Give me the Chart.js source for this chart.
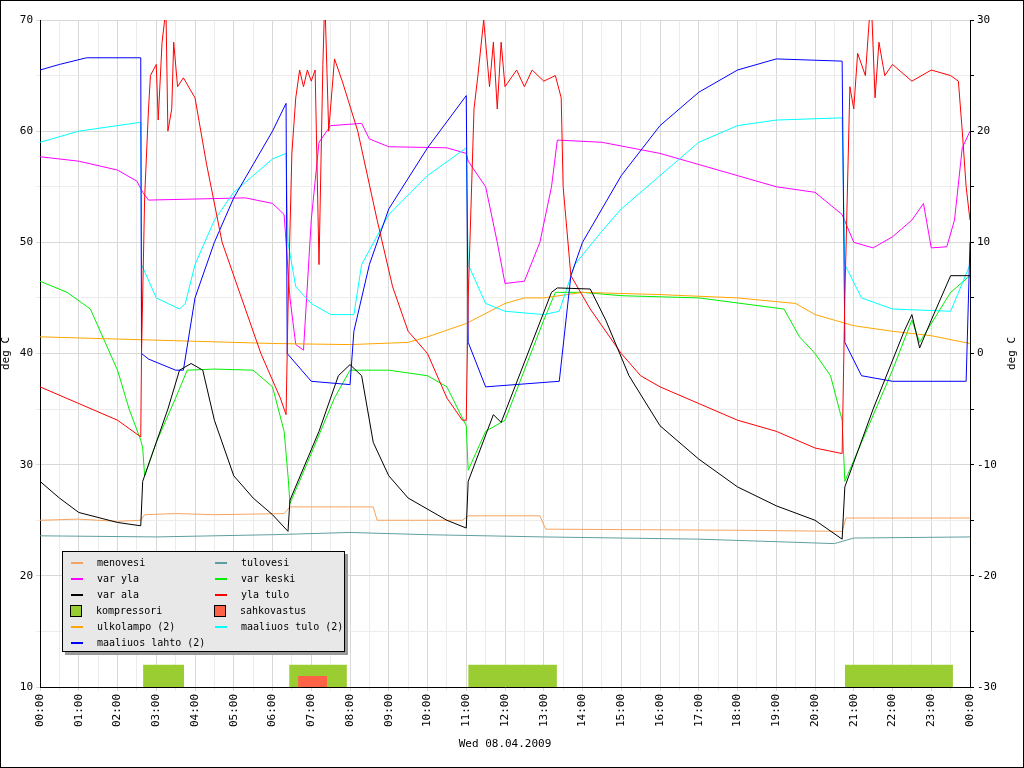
<!DOCTYPE html>
<html>
<head>
<meta charset="utf-8">
<script src="https://cdn.jsdelivr.net/npm/chart.js@4"></script>
<style>
  body { margin: 0; background: #fff; }
  #wrap { position: relative; width: 1024px; height: 768px; }
  #legend { position: absolute; left: 62px; top: 551px; width: 281px; height: 99px; background: #e8e8e8;
    border: 1px solid #000; box-shadow: 3px 3px 0 #999; font: 10px "DejaVu Sans Mono", monospace; }
  .it { position: absolute; height: 16px; line-height: 16px; white-space: nowrap; }
  .ln { display: inline-block; width: 12px; height: 2px; vertical-align: middle; margin: 0 14px 0 8px; }
  .bx { display: inline-block; width: 10px; height: 10px; border: 1px solid #000; vertical-align: middle; margin: 0 14px 0 7px; }
</style>
</head>
<body>
<div id="wrap">
<canvas id="chart" width="1024" height="768"></canvas>
<div id="legend"></div>
</div>
<script>
    // data, [hour, value]
    var menovesi = [[0,25],[1,25.1],[2,24.9],[2.6,25],[2.7,25.5],[3.5,25.6],[4.5,25.5],[6.3,25.6],[6.45,26.2],[8.6,26.2],[8.7,25],[10.9,25],[11.05,25.4],[12.9,25.4],[13.05,24.2],[18,24.1],[20.7,24],[20.8,25.2],[24,25.2]];
    var tulovesi = [[0,23.6],[3,23.5],[6,23.7],[8,23.9],[10,23.7],[13,23.5],[17,23.3],[20.5,22.9],[21,23.4],[24,23.5]];
    var varYla = [[0,57.7],[1,57.3],[2,56.5],[2.5,55.5],[2.65,54.5],[2.8,53.8],[5.3,54],[6,53.5],[6.3,52.5],[6.45,45],[6.6,40.8],[6.8,40.3],[7,52],[7.2,59],[7.5,60.5],[8.3,60.7],[8.5,59.3],[9,58.6],[10.5,58.5],[11,58],[11.05,57.3],[11.5,55],[11.8,50],[12,46.3],[12.5,46.5],[12.9,50],[13.2,55],[13.35,59.2],[14.5,59],[16,58],[17,57],[18,56],[19,55],[20,54.5],[20.7,52.5],[21,50],[21.5,49.5],[22,50.5],[22.5,52],[22.8,53.5],[23,49.5],[23.4,49.6],[23.6,52],[23.8,58.5],[24,60]];
    var varKeski = [[0,46.5],[0.7,45.5],[1.3,44],[2,38.5],[2.3,35],[2.6,32.2],[2.65,31.5],[2.7,29],[3,32],[3.5,36],[3.8,38.5],[4.5,38.6],[5.5,38.5],[6,37],[6.3,33],[6.4,29],[6.45,26.5],[7,31],[7.6,36],[8,38.5],[9,38.5],[10,38],[10.5,37],[11,33.5],[11.05,29.5],[11.5,33],[12,34],[13,43],[13.3,45.5],[14,45.5],[15,45.2],[17,45],[19.2,44],[19.6,41.5],[20,40],[20.4,38],[20.7,34],[20.77,28.5],[22,38.5],[22.5,43],[22.7,41],[23.5,45.5],[24,47]];
    var varAla = [[0,28.5],[0.5,27],[1,25.7],[2,24.8],[2.6,24.5],[2.65,28.5],[3.3,35],[3.6,38.5],[3.9,39.1],[4.2,38.5],[4.5,34],[5,29],[5.5,27],[6,25.5],[6.4,24],[6.45,26.8],[7.2,33],[7.7,38],[8,39],[8.3,38],[8.6,32],[9,29],[9.5,27],[10.5,25],[11,24.3],[11.05,28.5],[11.7,34.5],[11.9,33.8],[13.2,45.5],[13.35,45.9],[14.2,45.8],[14.6,43],[15.2,38],[16,33.5],[17,30.5],[18,28],[19,26.3],[20,25],[20.7,23.3],[20.77,28],[21.5,35],[22.3,42],[22.5,43.5],[22.7,40.5],[23,43],[23.5,47],[24,47]];
    var ylaTulo = [[0,37],[1,35.5],[2,34],[2.6,32.5],[2.62,40],[2.7,54],[2.8,62],[2.85,65],[3,66],[3.05,61],[3.15,68],[3.25,71],[3.3,60],[3.4,62],[3.45,68],[3.55,64],[3.7,64.8],[4,63],[4.3,57],[4.7,50],[5.2,45],[5.7,40],[6.2,36],[6.35,34.5],[6.4,44],[6.5,58],[6.6,63],[6.7,65.5],[6.8,64],[6.9,65.5],[7,64.5],[7.1,65.5],[7.2,48],[7.3,66],[7.35,72],[7.45,60],[7.6,66.5],[7.8,64.5],[8.2,60],[8.7,52],[9.1,46],[9.5,42],[10,40],[10.5,36],[10.9,34],[11,34],[11.05,45],[11.2,62],[11.3,65],[11.45,70],[11.6,64],[11.7,68],[11.8,62],[11.9,68],[12,64],[12.3,65.5],[12.5,64],[12.7,65.5],[13,64.5],[13.3,65],[13.45,63],[13.5,55],[13.7,47],[14.2,44],[15,40],[15.5,38],[16,37],[17,35.5],[18,34],[19,33],[20,31.5],[20.7,31],[20.77,45],[20.9,64],[21,62],[21.1,67],[21.3,65],[21.4,70],[21.45,72],[21.55,63],[21.65,68],[21.8,65],[22,66],[22.5,64.5],[23,65.5],[23.5,65],[23.7,64.5],[23.8,60],[23.9,55],[24,52]];
    var ulkolampo = [[0,1.5],[3,1.2],[6,0.9],[8,0.8],[9.5,1],[10,1.5],[11,2.7],[12,4.5],[12.5,5],[13,5],[14,5.5],[16,5.3],[18,5],[19.5,4.5],[20,3.5],[21,2.5],[22,2],[23,1.6],[24,0.9]];
    var maaTulo = [[0,19],[1,20],[2,20.5],[2.6,20.8],[2.62,8],[3,5],[3.6,4],[3.75,4.5],[4,8],[4.5,12],[5,14.5],[6,17.5],[6.35,18],[6.4,10],[6.6,6],[7,4.5],[7.5,3.5],[8.1,3.5],[8.3,8],[9,12.5],[10,16],[11,18.5],[11.05,8],[11.5,4.5],[12,3.8],[13,3.5],[13.4,3.8],[13.8,8],[14.5,11],[15,13],[16,16],[17,19],[18,20.5],[19,21],[20.7,21.2],[20.77,8],[21.2,5],[22,4],[23.5,3.8],[24,8]];
    var maaLahto = [[0,25.5],[0.5,26],[1.2,26.6],[2.6,26.6],[2.62,0],[2.8,-0.5],[3.5,-1.5],[3.7,-1.5],[4,5],[4.5,10],[5,14],[5.5,17],[6,20],[6.35,22.5],[6.38,0],[7,-2.5],[8,-2.8],[8.1,2],[8.5,8],[9,13],[10,18.5],[11,23.2],[11.05,1],[11.5,-3],[13.4,-2.5],[13.7,7],[14,10],[15,16],[16,20.5],[17,23.5],[18,25.5],[19,26.5],[20.7,26.3],[20.77,1],[21.2,-2],[22,-2.5],[23.9,-2.5],[24,10]];
    var kompressori = [[2.66,3.72],[6.43,7.92],[11.05,13.34],[20.77,23.56]];
    var sahkovastus = [[6.66,7.41]];

    function pts(list) {
        return list.map(p => ({x: p[0], y: p[1]}));
    }
    function blocks(list, h) {
        var out = [];
        list.forEach(b => {
            out.push({x: b[0], y: h}, {x: b[1], y: h}, {x: b[1], y: null});
        });
        return out;
    }
    function line(label, data, color, axis) {
        return {label: label, data: pts(data), borderColor: color, borderWidth: 1, pointRadius: 0,
            fill: false, tension: 0, yAxisID: axis || 'y'};
    }

    var datasets = [
        line('var ala', varAla, '#000000'),
        line('yla tulo', ylaTulo, '#ff0000'),
        line('maaliuos lahto (2)', maaLahto, '#0000ff', 'y2'),
        line('maaliuos tulo (2)', maaTulo, '#00ffff', 'y2'),
        line('ulkolampo (2)', ulkolampo, '#ffa500', 'y2'),
        line('var keski', varKeski, '#00ee00'),
        line('var yla', varYla, '#ff00ff'),
        line('tulovesi', tulovesi, '#5f9ea0'),
        line('menovesi', menovesi, '#f4a460'),
        {label: 'sahkovastus', data: blocks(sahkovastus, 11), borderWidth: 0, backgroundColor: '#ff6347', fill: 'start', pointRadius: 0, spanGaps: false, yAxisID: 'y'},
        {label: 'kompressori', data: blocks(kompressori, 12), borderWidth: 0, backgroundColor: '#9acd32', fill: 'start', pointRadius: 0, spanGaps: false, yAxisID: 'y'}
    ];

    var font = {family: 'DejaVu Sans Mono', size: 11};
    var grid = {color: ctx => (ctx.tick && ctx.tick.value % 10 === 0 ? '#d8d8d8' : '#ececec'), drawTicks: true, tickLength: 4};

    var border = {
        id: 'border',
        afterDraw(chart) {
            var c = chart.ctx;
            c.save();
            c.strokeStyle = '#000';
            c.lineWidth = 1;
            c.strokeRect(0.5, 0.5, chart.width - 1, chart.height - 1);
            c.fillStyle = '#000';
            c.font = '11px "DejaVu Sans Mono"';
            c.textAlign = 'center';
            c.textBaseline = 'middle';
            c.translate(1012, (chart.chartArea.top + chart.chartArea.bottom) / 2);
            c.rotate(-Math.PI / 2);
            c.fillText('deg C', 0, 0);
            c.restore();
        }
    };

    new Chart(document.getElementById('chart'), {
        type: 'line',
        data: {datasets: datasets},
        plugins: [border],
        options: {
            responsive: false,
            animation: false,
            layout: {padding: {top: 20, left: 0, right: 0, bottom: 0}},
            plugins: {legend: {display: false}, tooltip: {enabled: false}},
            scales: {
                x: {
                    type: 'linear', min: 0, max: 24,
                    ticks: {stepSize: 0.5, autoSkip: false, minRotation: 90, maxRotation: 90, color: '#000', font: font,
                        callback: v => (v % 1 === 0 ? String(v % 24).padStart(2, '0') + ':00' : '')},
                    grid: {color: ctx => (ctx.tick && ctx.tick.value % 1 === 0 ? '#d8d8d8' : '#ececec'), tickLength: 4},
                    border: {color: '#000'},
                    title: {display: true, text: 'Wed 08.04.2009', color: '#000', font: font, padding: {top: 0, bottom: 17}},
                    afterFit: s => { s.height = 81; }
                },
                y: {
                    min: 10, max: 70,
                    ticks: {stepSize: 5, color: '#000', font: font, callback: v => (v % 10 === 0 ? v : '')},
                    grid: grid,
                    border: {color: '#000'},
                    title: {display: true, text: 'deg C', color: '#000', font: font, padding: 0},
                    afterFit: s => { s.width = 40; }
                },
                y2: {
                    position: 'right', min: -30, max: 30,
                    ticks: {stepSize: 5, color: '#000', font: font, callback: v => (v % 10 === 0 ? v : '')},
                    grid: {drawOnChartArea: false, tickLength: 4, color: '#000'},
                    border: {color: '#000'},
                    afterFit: s => { s.width = 54; }
                }
            }
        }
    });

    var legendItems = [
        ['menovesi', '#f4a460', 0], ['tulovesi', '#5f9ea0', 0],
        ['var yla', '#ff00ff', 0], ['var keski', '#00ee00', 0],
        ['var ala', '#000000', 0], ['yla tulo', '#ff0000', 0],
        ['kompressori', '#9acd32', 1], ['sahkovastus', '#ff6347', 1],
        ['ulkolampo (2)', '#ffa500', 0], ['maaliuos tulo (2)', '#00ffff', 0],
        ['maaliuos lahto (2)', '#0000ff', 0]
    ];
    var lg = document.getElementById('legend');
    legendItems.forEach((it, i) => {
        var d = document.createElement('div');
        d.className = 'it';
        d.style.left = (i % 2 ? 144 : 0) + 'px';
        d.style.top = (3 + Math.floor(i / 2) * 16) + 'px';
        d.innerHTML = (it[2] ? '<span class="bx" style="background:' + it[1] + '"></span>'
            : '<span class="ln" style="background:' + it[1] + '"></span>') + it[0];
        lg.appendChild(d);
    });
</script>
</body>
</html>
